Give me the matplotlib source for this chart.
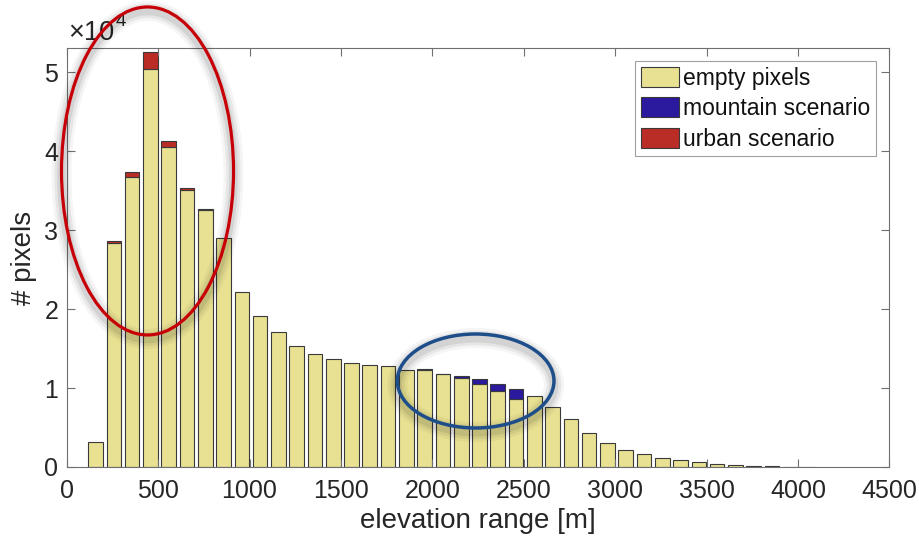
import numpy as np
import matplotlib
matplotlib.use("Agg")
import matplotlib.pyplot as plt
from matplotlib.patches import Ellipse, Patch
from matplotlib.transforms import offset_copy
from matplotlib.ticker import FuncFormatter, MultipleLocator


plt.rcParams["font.family"] = ["Liberation Sans", "DejaVu Sans"]

# histogram bins (elevation range, bin centres in m)
bin_centers = [158, 258, 358, 458, 558, 658, 758, 858, 958, 1058,
               1158, 1258, 1358, 1458, 1558, 1658, 1758, 1858, 1958, 2058,
               2158, 2258, 2358, 2458, 2558, 2658, 2758, 2858, 2958, 3058,
               3158, 3258, 3358, 3458, 3558, 3658, 3758, 3858, 3958, 4058]

empty_pixels = [3130, 28350, 36790, 50400, 40600, 35100, 32610, 29060, 22220, 19180,
                17070, 15300, 14320, 13730, 13140, 12890, 12830, 12290, 12320, 11750,
                11240, 10580, 9670, 8620, 9060, 7660, 6120, 4370, 3000, 2110,
                1610, 1100, 890, 600, 380, 220, 120, 70, 50, 40]

mountain_scenario = [0, 0, 0, 0, 0, 0, 0, 0, 0, 0,
                     0, 0, 0, 0, 0, 0, 0, 0, 40, 60,
                     290, 510, 910, 1230, 0, 0, 0, 0, 0, 0,
                     0, 0, 0, 0, 0, 0, 0, 0, 0, 0]

urban_scenario = [0, 290, 640, 2150, 700, 220, 50, 0, 0, 0,
                  0, 0, 0, 0, 0, 0, 0, 0, 0, 0,
                  0, 0, 0, 0, 0, 0, 0, 0, 0, 0,
                  0, 0, 0, 0, 0, 0, 0, 0, 0, 0]

series_labels = ["empty pixels", "mountain scenario", "urban scenario"]
series_colors = ["#E9E192", "#2B199E", "#BA2D27"]

AXIS_GRAY = "#6F6F6F"
TEXT_DARK = "#262626"

fig = plt.figure(figsize=(9.19, 5.40), dpi=100)
ax = fig.add_axes([0.0726, 0.1352, 0.8951, 0.7754])

x = np.array(bin_centers)
empty = np.array(empty_pixels)
mountain = np.array(mountain_scenario)
urban = np.array(urban_scenario)

bar_kw = dict(width=80, edgecolor="#3A3A3A", linewidth=0.8)
ax.bar(x, empty, color=series_colors[0], **bar_kw)
ax.bar(x[mountain > 0], mountain[mountain > 0], bottom=empty[mountain > 0],
       color=series_colors[1], **bar_kw)
ax.bar(x[urban > 0], urban[urban > 0], bottom=empty[urban > 0],
       color=series_colors[2], **bar_kw)

ax.set_xlim(0, 4500)
ax.set_ylim(0, 53070)
ax.xaxis.set_major_locator(MultipleLocator(500))
ax.yaxis.set_major_locator(MultipleLocator(10000))
ax.yaxis.set_major_formatter(FuncFormatter(lambda v, pos: f"{v / 1e4:g}"))

ax.tick_params(direction="in", length=6, width=0.8, color=AXIS_GRAY,
               labelsize=18, labelcolor=TEXT_DARK,
               top=True, right=True)
ax.tick_params(axis="x", pad=9)
ax.tick_params(axis="y", pad=6)
for side in ax.spines.values():
    side.set_color(AXIS_GRAY)
    side.set_linewidth(0.8)

# exponent shown above the y axis
base = ax.text(0.002, 1.006, "×10", transform=ax.transAxes,
               fontsize=19.5, color=TEXT_DARK, ha="left", va="bottom")
ax.annotate("4", xy=(1, 1), xycoords=base, xytext=(0.5, -1),
            textcoords="offset points", fontsize=13.5, color=TEXT_DARK,
            ha="left", va="center")

ax.set_xlabel("elevation range [m]", fontsize=20, color=TEXT_DARK, labelpad=3)
ax.set_ylabel("# pixels", fontsize=20, color=TEXT_DARK, labelpad=5)

handles = [Patch(facecolor=c, edgecolor="#3A3A3A", linewidth=0.8) for c in series_colors]
leg = ax.legend(handles, series_labels, loc="upper right",
                bbox_to_anchor=(0.984, 0.970), borderaxespad=0,
                fontsize=16.5, frameon=True, fancybox=False,
                handlelength=1.65, handleheight=0.95, handletextpad=0.2,
                labelspacing=0.33, borderpad=0.25)
leg.get_frame().set_edgecolor("#8A8A8A")
leg.get_frame().set_linewidth(0.8)
for t in leg.get_texts():
    t.set_color("#111111")

# highlight ellipses with a soft drop shadow
highlights = [
    dict(xy=(442, 37520), w=941, h=41570, color="#C70008", lw=2.3),
    dict(xy=(2237, 10900), w=857, h=11910, color="#1E4E8A", lw=2.5),
]
shadow_tr = offset_copy(ax.transData, fig=fig, x=0, y=-4, units="dots")
for hl in highlights:
    for extra, alpha in [(12, 0.04), (8, 0.06), (4, 0.08)]:
        ax.add_patch(Ellipse(hl["xy"], hl["w"], hl["h"], fill=False,
                             edgecolor="black", linewidth=hl["lw"] + extra,
                             alpha=alpha, transform=shadow_tr,
                             clip_on=False, zorder=4))
    ax.add_patch(Ellipse(hl["xy"], hl["w"], hl["h"], fill=False,
                         edgecolor=hl["color"], linewidth=hl["lw"],
                         clip_on=False, zorder=5))

fig.savefig("out.png", dpi=100)
